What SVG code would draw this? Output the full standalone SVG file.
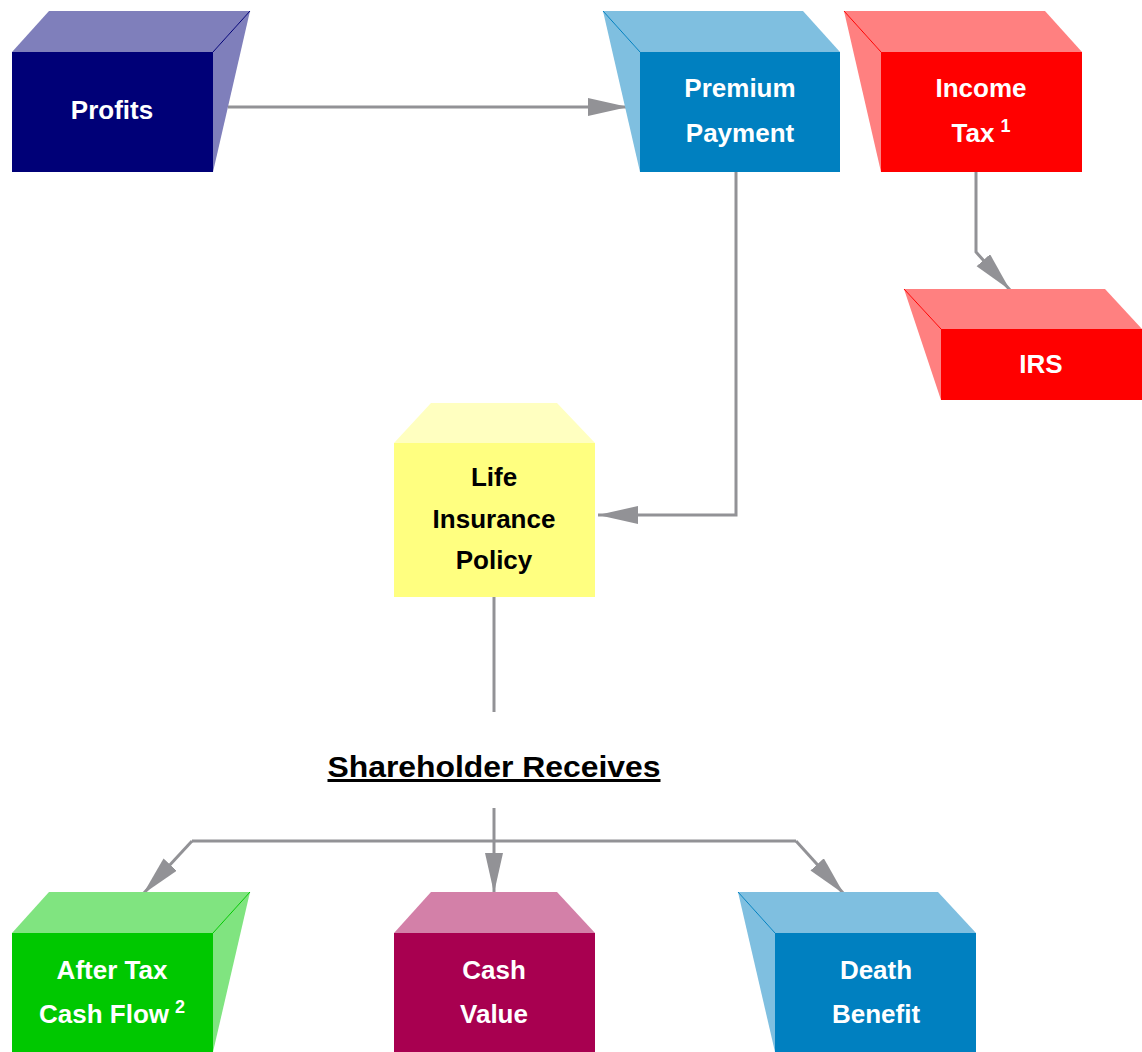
<svg xmlns="http://www.w3.org/2000/svg" width="1142" height="1052" viewBox="0 0 1142 1052">
<defs>
<style>
.t{font-family:"Liberation Sans",Arial,sans-serif;font-weight:bold;font-size:26px;text-anchor:middle;fill:#fff}
.dk{fill:#000}
.sup{font-size:18px}
.c{fill:none;stroke:#929296;stroke-width:3}
</style>
<marker id="ah" markerUnits="userSpaceOnUse" markerWidth="42" markerHeight="20" refX="40" refY="9" orient="auto">
<path d="M0,0 L40,9 L0,18 Z" fill="#929296"/>
</marker>
</defs>
<rect width="1142" height="1052" fill="#fff"/>

<g id="connectors">
<path class="c" d="M228,107 L628,107" marker-end="url(#ah)"/>
<path class="c" d="M736,172 L736,515 L598,515" marker-end="url(#ah)"/>
<path class="c" d="M976,172 L976,252 L1010,290" marker-end="url(#ah)"/>
<path class="c" d="M494,597 L494,712"/>
<path class="c" d="M494,808 L494,893" marker-end="url(#ah)"/>
<path class="c" d="M192,841 L796,841"/>
<path class="c" d="M192,841 L143,894" marker-end="url(#ah)"/>
<path class="c" d="M796,841 L844,894" marker-end="url(#ah)"/>
</g>

<g id="profits">
<polygon points="12,52 49,11 250,11 213,52" fill="#7F7FBB"/>
<polygon points="213,52 250,11 213,172" fill="#7F7FBB"/>
<line x1="213" y1="52" x2="250" y2="11" stroke="#000077" stroke-width="1"/>
<rect x="12" y="52" width="201" height="120" fill="#000077"/>
<text class="t" x="112" y="119">Profits</text>
</g>

<g id="premium">
<polygon points="603,11 803,11 840,52 640,52" fill="#7FBFE0"/>
<polygon points="603,11 640,52 640,172" fill="#7FBFE0"/>
<line x1="603" y1="11" x2="640" y2="52" stroke="#0080C0" stroke-width="1"/>
<rect x="640" y="52" width="200" height="120" fill="#0080C0"/>
<text class="t" x="740" y="97">Premium</text>
<text class="t" x="740" y="142">Payment</text>
</g>

<g id="incometax">
<polygon points="844,11 1045,11 1082,52 881,52" fill="#FF8080"/>
<polygon points="844,11 881,52 881,172" fill="#FF8080"/>
<line x1="844" y1="11" x2="881" y2="52" stroke="#FF0000" stroke-width="1"/>
<rect x="881" y="52" width="201" height="120" fill="#FF0000"/>
<text class="t" x="981" y="97">Income</text>
<text class="t" x="981" y="142">Tax<tspan class="sup" dx="6" dy="-10">1</tspan></text>
</g>

<g id="irs">
<polygon points="904,289 1105,289 1142,329 941,329" fill="#FF8080"/>
<polygon points="904,289 941,329 941,400" fill="#FF8080"/>
<line x1="904" y1="289" x2="941" y2="329" stroke="#FF0000" stroke-width="1"/>
<rect x="941" y="329" width="201" height="71" fill="#FF0000"/>
<text class="t" x="1041" y="373">IRS</text>
</g>

<g id="life">
<polygon points="394,443 431,403 557,403 595,443" fill="#FFFFC0"/>
<rect x="394" y="443" width="201" height="154" fill="#FFFF80"/>
<text class="t dk" x="494" y="486">Life</text>
<text class="t dk" x="494" y="528">Insurance</text>
<text class="t dk" x="494" y="569">Policy</text>
</g>

<g id="shareholder">
<text class="t dk" x="494" y="777" font-size="30" textLength="333" lengthAdjust="spacingAndGlyphs" style="font-size:30px;text-decoration:underline">Shareholder Receives</text>
</g>

<g id="aftertax">
<polygon points="12,933 49,892 250,892 213,933" fill="#80E480"/>
<polygon points="213,933 250,892 213,1052" fill="#80E480"/>
<line x1="213" y1="933" x2="250" y2="892" stroke="#00C800" stroke-width="1"/>
<rect x="12" y="933" width="201" height="119" fill="#00C800"/>
<text class="t" x="112" y="979">After Tax</text>
<text class="t" x="112" y="1023">Cash Flow<tspan class="sup" dx="6" dy="-10">2</tspan></text>
</g>

<g id="cashvalue">
<polygon points="394,933 431,892 557,892 595,933" fill="#D380A8"/>
<rect x="394" y="933" width="201" height="119" fill="#A80050"/>
<text class="t" x="494" y="979">Cash</text>
<text class="t" x="494" y="1023">Value</text>
</g>

<g id="deathbenefit">
<polygon points="738,892 938,892 976,933 775,933" fill="#7FBFE0"/>
<polygon points="738,892 775,933 775,1052" fill="#7FBFE0"/>
<line x1="738" y1="892" x2="775" y2="933" stroke="#0080C0" stroke-width="1"/>
<rect x="775" y="933" width="201" height="119" fill="#0080C0"/>
<text class="t" x="876" y="979">Death</text>
<text class="t" x="876" y="1023">Benefit</text>
</g>
</svg>
